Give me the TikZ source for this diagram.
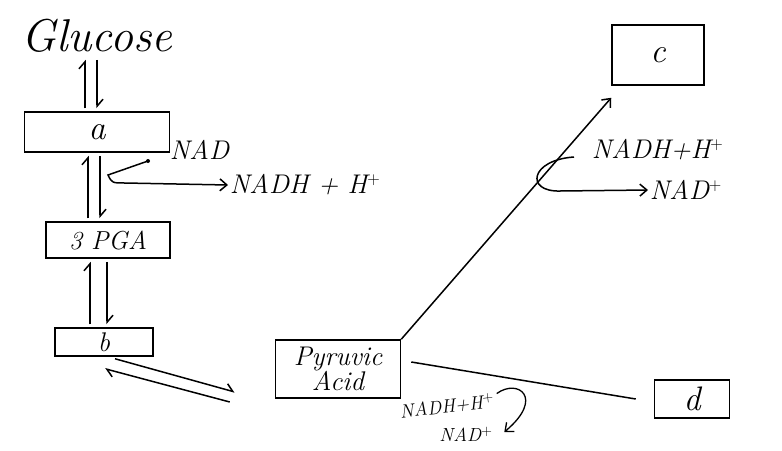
\documentclass[tikz,border=0pt]{standalone}
\usepackage{fontspec}
\usetikzlibrary{arrows.meta}
\begin{document}
\begin{tikzpicture}[x=1pt, y=-1pt, line width=1.5pt, >={Straight Barb[length=7pt,width=12pt]},
    box/.style={draw, rectangle, inner sep=0pt, font=\fontsize{34}{36}\selectfont\itshape},
    lbl/.style={font=\fontsize{27}{29}\selectfont\itshape\addfontfeature{LetterSpace=8}, inner sep=1pt},
    small/.style={font=\fontsize{19}{21}\selectfont\itshape\addfontfeature{LetterSpace=8}, inner sep=1pt},
    harp/.style={-{Straight Barb[left,length=7pt,width=12pt]}, shorten <=3pt, shorten >=3pt}]
    \useasboundingbox (0,0) rectangle (782,450);
    % boxes
    \node[font=\fontsize{46}{48}\selectfont\itshape] (glu) at (97,36) {Glucose};
    \node[box, minimum width=145, minimum height=40] (a) at (97,132) {a};
    \node[box, minimum width=124, minimum height=36, font=\fontsize{26}{28}\selectfont\itshape\addfontfeature{LetterSpace=8}] (pga) at (108,240) {3 PGA};
    \node[box, minimum width=98, minimum height=28, font=\fontsize{27}{28}\selectfont\itshape] (b) at (104,342) {b};
    \node[box, minimum width=125, minimum height=58, align=center, font=\fontsize{27}{25}\selectfont\itshape] (pyr) at (338,369) {Pyruvic\\Acid};
    \node[box, minimum width=92, minimum height=60] (c) at (658,55) {c};
    \node[box, minimum width=75, minimum height=38] (d) at (692,399) {d};
    % glycolysis steps
    \draw[harp] ([xshift=-12pt]a.north) -- ([xshift=-12pt]glu.south);
    \draw[harp] (glu.south) -- (a.north);
    \draw[harp] ([xshift=-20pt]pga.north) -- ([xshift=-9pt]a.south);
    \draw[harp] ([xshift=3pt]a.south) -- ([xshift=-8pt]pga.north);
    \draw[harp] ([xshift=-14pt]b.north) -- ([xshift=-18pt]pga.south);
    \draw[harp] ([xshift=-1pt]pga.south) -- ([xshift=3pt]b.north);
    \draw[-{Straight Barb[left,length=7pt,width=12pt]}] ([shift={(11,2)}]b.south) -- ([shift={(-40,23)}]pyr.west);
    \draw[-{Straight Barb[left,length=7pt,width=12pt]}] ([shift={(-45,33)}]pyr.west) -- ([shift={(1,12)}]b.south);
    % NAD reduction
    \node[lbl, anchor=west] (nad) at (168,150) {NAD};
    \node[lbl, anchor=west] (nadh) at (228,185) {NADH + H$^+$};
    \fill ([shift={(-20,11)}]nad.west) circle (2pt);
    \draw[->] ([shift={(-20,11)}]nad.west) -- (108,175) .. controls (112,183) .. (125,183) -- (nadh.west);
    % pyruvic acid to c
    \draw[->] (pyr.north east) -- ([shift={(0,12)}]c.south west);
    \node[lbl, anchor=west] (nadh2) at (590,150) {NADH+H$^+$};
    \node[lbl, anchor=west] (nad2) at (648,190) {NAD$^+$};
    \draw[->] ([shift={(-16,7)}]nadh2.west) .. controls (530,160) and (525,192) .. (560,191) -- (nad2.west);
    % pyruvic acid to d
    \draw ([shift={(10,-7)}]pyr.east) -- ([xshift=-18pt]d.west);
    \node[small, rotate=7] (nadh3) at (447,406) {NADH+H$^+$};
    \node[small] (nad3) at (466,434) {NAD$^+$};
    \draw[->, line width=1.3pt] ([shift={(2,3)}]nadh3.north east) .. controls (518,378) and (545,398) .. ([shift={(10,-2)}]nad3.east);
\end{tikzpicture}
\end{document}
